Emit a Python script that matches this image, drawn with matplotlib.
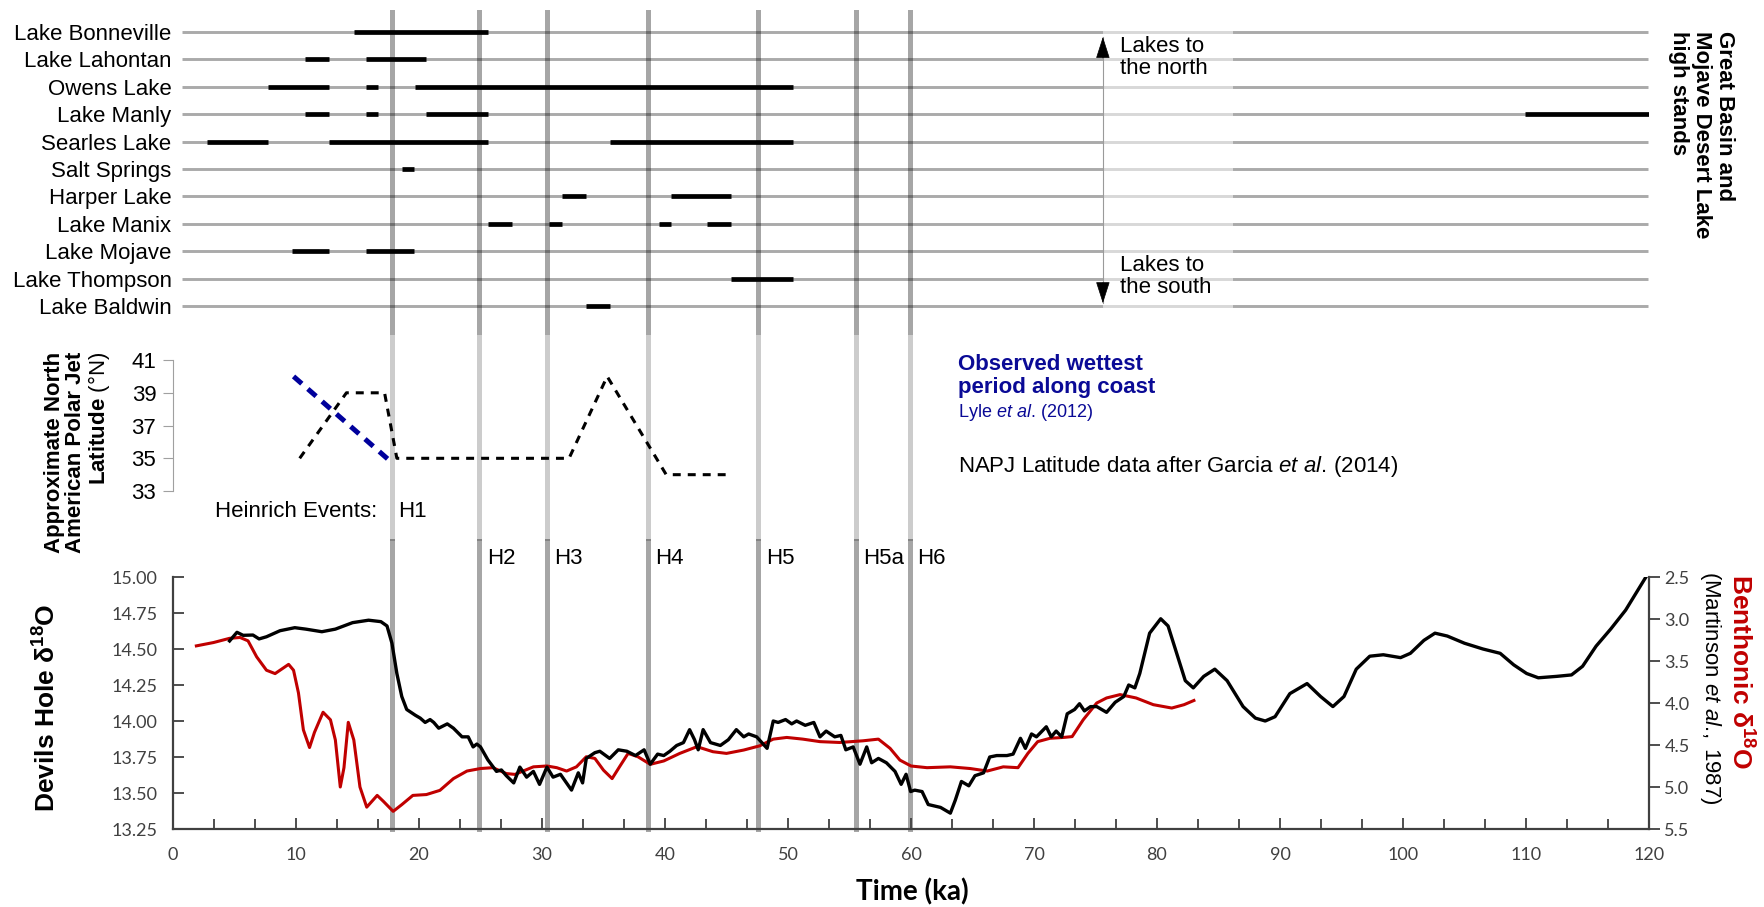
import numpy as np
import matplotlib
matplotlib.use("Agg")
import matplotlib.pyplot as plt
from matplotlib.ticker import MultipleLocator, FormatStrFormatter

plt.rcParams['font.family'] = ['Liberation Sans', 'DejaVu Sans']
plt.rcParams['mathtext.fontset'] = 'custom'
plt.rcParams['mathtext.rm'] = 'Liberation Sans'
plt.rcParams['mathtext.it'] = 'Liberation Sans:italic'
plt.rcParams['mathtext.bf'] = 'Liberation Sans:bold'

# ---- lake high stands (ka) ----
lake_names = ["Lake Bonneville", "Lake Lahontan", "Owens Lake", "Lake Manly",
              "Searles Lake", "Salt Springs", "Harper Lake", "Lake Manix",
              "Lake Mojave", "Lake Thompson", "Lake Baldwin"]
lake_spans = [
    [(14.7, 25.6)],
    [(10.7, 12.7), (15.7, 20.6)],
    [(7.7, 12.7), (15.7, 16.7), (19.7, 50.4)],
    [(10.7, 12.7), (15.7, 16.7), (20.6, 25.6), (109.9, 120.0)],
    [(2.8, 7.7), (12.7, 25.6), (35.5, 50.4)],
    [(18.6, 19.6)],
    [(31.6, 33.6), (40.5, 45.4)],
    [(25.6, 27.6), (30.6, 31.6), (39.5, 40.5), (43.4, 45.4)],
    [(9.7, 12.7), (15.7, 19.6)],
    [(45.4, 50.4)],
    [(33.6, 35.5)],
]

# ---- Heinrich events (ka) ----
heinrich_ages = [17.8, 24.9, 30.4, 38.6, 47.6, 55.5, 59.9]
heinrich_names = ["H1", "H2", "H3", "H4", "H5", "H5a", "H6"]

# ---- NAPJ latitude ----
napj_age = [10.3, 14.1, 17.2, 18.2, 32.2, 35.3, 40.1, 45.1]
napj_lat = [35, 39, 39, 35, 35, 40, 34, 34]
wet_age = [9.8, 17.7]
wet_lat = [40.0, 34.8]

# ---- Devils Hole d18O ----
dh_age = [4.6, 5.2, 5.7, 6.5, 7.0, 7.6, 8.7, 9.9, 10.8, 12.1, 13.2, 14.6, 15.9, 16.9,
          17.4, 17.8, 18.2, 18.6, 19.0, 19.7, 20.1, 20.5, 20.9, 21.2, 21.6, 22.3, 22.8,
          23.5, 24.0, 24.4, 24.7, 25.0, 25.6, 26.3, 26.7, 27.1, 27.7, 28.2, 28.75, 29.3,
          29.8, 30.4, 30.9, 31.5, 32.4, 32.95, 33.3, 33.6, 34.3, 34.7, 35.5, 36.2, 36.9,
          37.6, 38.3, 38.8, 39.4, 39.9, 40.4, 40.95, 41.5, 42.0, 42.4, 42.7, 43.1, 43.7,
          44.5, 45.15, 45.8, 46.4, 46.8, 47.45, 48.3, 48.8, 49.2, 49.8, 50.3, 50.7, 51.4,
          52.1, 52.6, 53.1, 53.8, 54.3, 54.7, 55.3, 55.85, 56.4, 56.8, 57.35, 58.0, 58.7,
          59.2, 59.6, 59.97, 60.3, 60.9, 61.4, 62.4, 63.2, 63.6, 64.1, 64.7, 65.2, 65.9,
          66.4, 66.97, 67.8, 68.3, 68.9, 69.3, 69.8, 70.2, 71.0, 71.4, 71.8, 72.25, 72.7,
          73.1, 73.3, 73.7, 74.1, 74.6, 75.1, 75.9, 76.6, 77.3, 77.7, 78.2, 78.6, 79.4,
          80.3, 80.9, 81.6, 82.3, 82.95, 83.8, 84.7, 85.7, 87.0, 88.0, 88.8, 89.6, 90.8,
          92.2, 93.3, 94.3, 95.2, 96.2, 97.3, 98.4, 99.8, 100.6, 101.7, 102.6, 103.6,
          105.0, 106.5, 107.9, 109.0, 110.05, 111.0, 112.5, 113.7, 114.6, 115.7, 116.9,
          118.1, 118.96, 119.75]
dh_d18o = [14.556, 14.616, 14.595, 14.597, 14.57, 14.585, 14.627, 14.648, 14.638, 14.62,
           14.638, 14.683, 14.70, 14.69, 14.66, 14.54, 14.33, 14.17, 14.08, 14.04, 14.02,
           13.99, 14.01, 13.99, 13.95, 13.98, 13.95, 13.89, 13.89, 13.82, 13.84, 13.82,
           13.73, 13.65, 13.66, 13.62, 13.57, 13.68, 13.61, 13.65, 13.56, 13.68, 13.61,
           13.63, 13.52, 13.64, 13.57, 13.74, 13.78, 13.79, 13.74, 13.80, 13.79, 13.76,
           13.80, 13.70, 13.77, 13.76, 13.79, 13.83, 13.85, 13.94, 13.87, 13.80, 13.94,
           13.85, 13.83, 13.87, 13.94, 13.89, 13.91, 13.89, 13.81, 14.0, 13.99, 14.01,
           13.98, 14.0, 13.97, 13.99, 13.89, 13.93, 13.89, 13.90, 13.80, 13.82, 13.70,
           13.82, 13.71, 13.74, 13.71, 13.65, 13.56, 13.63, 13.51, 13.52, 13.51, 13.42,
           13.40, 13.36, 13.45, 13.58, 13.55, 13.62, 13.64, 13.75, 13.76, 13.76, 13.77,
           13.88, 13.81, 13.91, 13.89, 13.96, 13.89, 13.93, 13.89, 14.05, 14.07, 14.08,
           14.12, 14.07, 14.10, 14.10, 14.06, 14.13, 14.17, 14.25, 14.23, 14.33, 14.61,
           14.71, 14.66, 14.47, 14.28, 14.23, 14.31, 14.36, 14.28, 14.10, 14.02, 14.0,
           14.03, 14.19, 14.26, 14.17, 14.10, 14.17, 14.36, 14.45, 14.46, 14.44, 14.47,
           14.56, 14.61, 14.59, 14.54, 14.50, 14.47, 14.39, 14.33, 14.30, 14.31, 14.32,
           14.38, 14.52, 14.64, 14.77, 14.89, 15.0]

# ---- Benthonic d18O (Martinson et al., 1987) ----
bt_age = [1.9, 3.3, 4.6, 5.45, 6.1, 6.8, 7.6, 8.3, 8.8, 9.4, 9.8, 10.2, 10.6, 11.1, 11.5,
          12.2, 12.8, 13.2, 13.6, 13.9, 14.25, 14.7, 15.2, 15.75, 16.6, 17.1, 17.9, 18.6,
          19.5, 20.6, 21.7, 22.8, 23.9, 25.0, 26.0, 27.1, 27.8, 29.3, 30.4, 31.2, 32.0,
          32.8, 33.6, 34.3, 35.0, 35.7, 36.3, 37.0, 37.8, 38.8, 39.9, 41.2, 42.6, 43.9,
          45.0, 46.4, 47.7, 48.8, 49.9, 51.2, 52.6, 54.2, 56.1, 57.35, 58.3, 59.1, 60.0,
          61.3, 63.2, 64.8, 66.2, 67.5, 68.7, 69.5, 70.3, 71.3, 72.4, 73.1, 74.0, 75.1,
          75.9, 77.0, 78.3, 79.7, 81.2, 82.2, 83.0]
bt_d18o = [3.32, 3.28, 3.23, 3.22, 3.26, 3.45, 3.61, 3.65, 3.60, 3.54, 3.61, 3.88, 4.32,
           4.53, 4.35, 4.11, 4.20, 4.44, 5.00, 4.77, 4.23, 4.44, 5.00, 5.24, 5.10, 5.17,
           5.29, 5.21, 5.10, 5.09, 5.04, 4.90, 4.81, 4.78, 4.77, 4.84, 4.85, 4.76, 4.75,
           4.77, 4.81, 4.76, 4.64, 4.66, 4.80, 4.90, 4.76, 4.60, 4.64, 4.73, 4.69, 4.60,
           4.52, 4.58, 4.60, 4.56, 4.51, 4.43, 4.41, 4.43, 4.46, 4.47, 4.45, 4.43, 4.54,
           4.68, 4.75, 4.77, 4.76, 4.78, 4.81, 4.76, 4.77, 4.60, 4.46, 4.42, 4.41, 4.40,
           4.20, 4.00, 3.94, 3.90, 3.94, 4.02, 4.06, 4.02, 3.97]

W, H = 1765, 907
fig = plt.figure(figsize=(W / 100, H / 100), dpi=100)


def px_box(left, top, right, bottom):
    return [left / W, 1 - bottom / H, (right - left) / W, (bottom - top) / H]


ax_top = fig.add_axes(px_box(173, 10, 1649, 335))
ax_mid = fig.add_axes(px_box(173, 335, 1649, 541))
ax_bot = fig.add_axes(px_box(173, 577, 1649, 829))
ax_r = ax_bot.twinx()
for ax in (ax_top, ax_mid, ax_bot, ax_r):
    ax.set_xlim(0, 120)
    ax.patch.set_visible(False)

# ---------- top panel: lakes ----------
rows = np.arange(len(lake_names))
ax_top.set_ylim(11.06, -0.803)
ax_top.hlines(rows, 0.7, 119.9, color='#aaaaaa', lw=2.1, zorder=2)
for i, spans in enumerate(lake_spans):
    for s, e in spans:
        ax_top.plot([s, e], [i, i], color='black', lw=3.4, solid_capstyle='butt', zorder=4)
ax_top.axvspan(75.6, 86.2, color='white', alpha=0.55, lw=0, zorder=3)
for h in heinrich_ages:
    ax_top.axvline(h, color='black', alpha=0.35, lw=3.6, zorder=3)
for sp in ax_top.spines.values():
    sp.set_visible(False)
ax_top.set_xticks([])
ax_top.set_yticks(rows)
ax_top.set_yticklabels(lake_names, fontsize=16)
ax_top.tick_params(axis='y', length=0, pad=1)

# north / south arrow
ax_top.plot([75.6, 75.6], [0.2, 9.9], color='#9a9a9a', lw=0.8, zorder=5)
ax_top.annotate('', xy=(75.6, 0.18), xytext=(75.6, 0.95),
                arrowprops=dict(arrowstyle='-|>,head_length=1.4,head_width=0.45',
                                color='black', lw=0.5, shrinkA=0, shrinkB=0, mutation_scale=10),
                zorder=6)
ax_top.annotate('', xy=(75.6, 9.9), xytext=(75.6, 9.15),
                arrowprops=dict(arrowstyle='-|>,head_length=1.4,head_width=0.45',
                                color='black', lw=0.5, shrinkA=0, shrinkB=0, mutation_scale=10),
                zorder=6)
ax_top.text(77.0, 0.93, "Lakes to\nthe north", fontsize=16, va='center', ha='left',
            linespacing=1.1, zorder=6)
ax_top.text(77.0, 8.93, "Lakes to\nthe south", fontsize=16, va='center', ha='left',
            linespacing=1.1, zorder=6)
fig.text(1735 / W, 1 - 31 / H, "Great Basin and\nMojave Desert Lake\nhigh stands",
         rotation=-90, ha='right', va='top', multialignment='left',
         fontsize=16, fontweight='bold', linespacing=1.12)

# ---------- middle panel: NAPJ latitude ----------
ax_mid.set_ylim(29.95, 42.53)
for side in ('top', 'right', 'bottom'):
    ax_mid.spines[side].set_visible(False)
ax_mid.spines['left'].set_bounds(33, 41)
ax_mid.spines['left'].set_color('#a0a0a0')
ax_mid.set_xticks([])
ax_mid.set_yticks([33, 35, 37, 39, 41])
ax_mid.tick_params(axis='y', direction='out', length=7, color='#a0a0a0',
                   labelsize=16, pad=5)
for h in heinrich_ages:
    ax_mid.axvline(h, color='black', alpha=0.2, lw=3.6, zorder=1)
ax_mid.plot(napj_age, napj_lat, color='black', lw=2.2, dashes=(2.6, 2.3), zorder=3)
ax_mid.plot(wet_age, wet_lat, color='#00009c', lw=3.6, dashes=(2.2, 1.6), zorder=4)
ax_mid.text(63.8, 40.02, "Observed wettest\nperiod along coast", fontsize=16,
            fontweight='bold', color='#0a0a96', va='center', ha='left', linespacing=1.1)
ax_mid.text(63.8, 37.82, r"$\mathrm{Lyle}\ \mathit{et\ al.}\!\ \mathrm{(2012)}$",
            fontsize=13, color='#0a0a96', va='center', ha='left')
ax_mid.text(63.8, 34.47,
            r"$\mathrm{NAPJ\ Latitude\ data\ after\ Garcia}\ \mathit{et\ al.}\!\ \mathrm{(2014)}$",
            fontsize=16, va='center', ha='left')
fig.text(78 / W, 1 - 352 / H,
         "Approximate North\nAmerican Polar Jet\nLatitude " + r"$\mathrm{(°N)}$",
         rotation=90, ha='center', va='top', multialignment='right',
         fontsize=16, fontweight='bold', linespacing=1.0)

# ---------- bottom panel: d18O ----------
ax_r.set_zorder(ax_bot.get_zorder() - 1)
ax_bot.patch.set_visible(False)

for h in heinrich_ages:
    ax_r.axvline(h, ymin=0, ymax=1.143, color='black', alpha=0.35, lw=3.6,
                 clip_on=False, zorder=1)
ax_r.plot(bt_age, bt_d18o, color='#c00000', lw=2.2, zorder=3)
ax_bot.plot(dh_age, dh_d18o, color='black', lw=2.4, zorder=4)

ax_bot.set_ylim(13.25, 15.0)
ax_r.set_ylim(5.5, 2.5)
ax_bot.set_yticks(np.arange(13.25, 15.01, 0.25))
ax_bot.yaxis.set_major_formatter(FormatStrFormatter('%.2f'))
ax_r.set_yticks(np.arange(2.5, 5.51, 0.5))
ax_r.yaxis.set_major_formatter(FormatStrFormatter('%.1f'))
ax_bot.xaxis.set_major_locator(MultipleLocator(10))
ax_bot.xaxis.set_minor_locator(MultipleLocator(10 / 3))

for ax in (ax_bot, ax_r):
    ax.spines['top'].set_visible(False)
ax_bot.spines['right'].set_visible(False)
ax_r.spines['left'].set_visible(False)
ax_r.spines['bottom'].set_visible(False)
for sp in (ax_bot.spines['left'], ax_bot.spines['bottom'], ax_r.spines['right']):
    sp.set_color('#404040')
    sp.set_linewidth(1.6)

ax_bot.tick_params(axis='x', which='both', direction='in', color='#404040',
                   labelcolor='#404040', labelsize=13, pad=13, width=1.3)
ax_bot.tick_params(axis='x', which='major', length=8)
ax_bot.tick_params(axis='x', which='minor', length=7)
ax_bot.tick_params(axis='y', direction='in', length=8, width=1.3, color='#404040',
                   labelcolor='#404040', labelsize=13, pad=11)
ax_r.tick_params(axis='y', direction='out', length=8, width=1.3, color='#404040',
                 labelcolor='#404040', labelsize=13, pad=3)
for lbl in ax_bot.get_xticklabels() + ax_bot.get_yticklabels() + ax_r.get_yticklabels():
    lbl.set_fontfamily('Lato')

# Heinrich labels
trans = ax_bot.get_xaxis_transform()
ax_bot.text(3.4, 1.258, "Heinrich Events:", transform=trans, fontsize=16,
            ha='left', va='center')
ax_bot.text(heinrich_ages[0] + 0.5, 1.258, heinrich_names[0], transform=trans,
            fontsize=16, ha='left', va='center')
for h, name in zip(heinrich_ages[1:], heinrich_names[1:]):
    ax_bot.text(h + 0.6, 1.075, name, transform=trans, fontsize=16,
                ha='left', va='center')

fig.text(47 / W, 1 - 708 / H, r"Devils Hole δ$^{\mathbf{18}}$O", rotation=90,
         fontsize=19, fontweight='bold', ha='center', va='center')
fig.text(1740 / W, 1 - 672 / H, r"Benthonic δ$^{\mathbf{18}}$O", rotation=-90,
         fontsize=19, fontweight='bold', color='#c00000', ha='center', va='center')
fig.text(1711 / W, 1 - 688 / H,
         r"$\mathrm{(Martinson}\ \mathit{et\ al.}\!\mathrm{,\ 1987)}$", rotation=-90,
         fontsize=16, ha='center', va='center')
fig.text(912 / W, 1 - 892 / H, "Time (ka)", fontsize=20, fontweight='bold',
         family='Lato', ha='center', va='center')

fig.savefig("out.png", dpi=100)
